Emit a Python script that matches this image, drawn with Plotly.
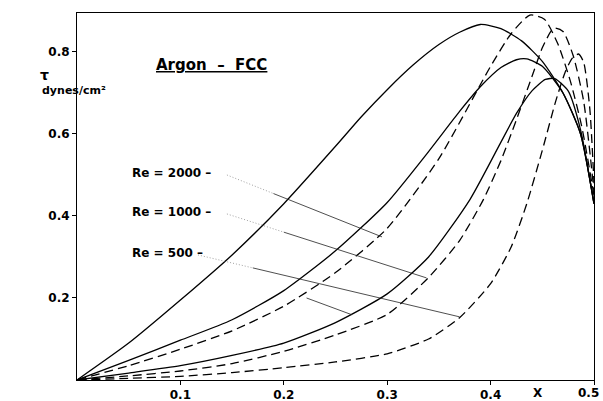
import plotly.graph_objects as go

# ---- data ----
a_x = [0, 0.05, 0.1, 0.15, 0.2, 0.25, 0.275, 0.3, 0.325, 0.35, 0.37, 0.39, 0.41, 0.43, 0.45, 0.47, 0.487, 0.5]
a_y = [0, 0.09, 0.195, 0.305, 0.43, 0.57, 0.642, 0.708, 0.768, 0.818, 0.848, 0.867, 0.857, 0.827, 0.777, 0.7, 0.6, 0.43]

b_x = [0, 0.05, 0.1, 0.15, 0.2, 0.25, 0.3, 0.34, 0.37, 0.39, 0.41, 0.425, 0.435, 0.45, 0.47, 0.487, 0.5]
b_y = [0, 0.048, 0.097, 0.147, 0.218, 0.315, 0.433, 0.557, 0.655, 0.715, 0.762, 0.781, 0.783, 0.765, 0.7, 0.6, 0.43]

c_x = [0, 0.05, 0.1, 0.15, 0.2, 0.25, 0.3, 0.34, 0.38, 0.41, 0.425, 0.44, 0.453, 0.462, 0.475, 0.487, 0.5]
c_y = [0, 0.017, 0.035, 0.06, 0.09, 0.14, 0.21, 0.30, 0.44, 0.58, 0.65, 0.705, 0.733, 0.735, 0.705, 0.61, 0.43]

d1_x = [0, 0.05, 0.1, 0.15, 0.2, 0.25, 0.3, 0.35, 0.4, 0.42, 0.438, 0.452, 0.465, 0.477, 0.488, 0.5]
d1_y = [0, 0.035, 0.075, 0.12, 0.18, 0.262, 0.37, 0.54, 0.765, 0.845, 0.89, 0.88, 0.82, 0.73, 0.62, 0.45]

d2_x = [0, 0.05, 0.1, 0.15, 0.2, 0.25, 0.3, 0.34, 0.37, 0.393, 0.41, 0.425, 0.44, 0.45, 0.461, 0.47, 0.48, 0.49, 0.5]
d2_y = [0, 0.01, 0.022, 0.04, 0.07, 0.11, 0.16, 0.25, 0.34, 0.44, 0.535, 0.635, 0.74, 0.81, 0.858, 0.85, 0.79, 0.68, 0.46]

d3_x = [0, 0.05, 0.1, 0.15, 0.2, 0.25, 0.3, 0.34, 0.37, 0.4, 0.42, 0.435, 0.45, 0.463, 0.472, 0.479, 0.485, 0.49, 0.496, 0.5]
d3_y = [0, 0.004, 0.009, 0.018, 0.03, 0.044, 0.064, 0.1, 0.152, 0.235, 0.325, 0.43, 0.56, 0.68, 0.75, 0.785, 0.795, 0.775, 0.66, 0.48]

re_labels = ["Re = 2000", "Re = 1000", "Re = 500"]
label_x = [0.051, 0.051, 0.051]
label_y = [0.505, 0.41, 0.31]
leader_start_x = [0.145, 0.145, 0.117]
leader_start_y = [0.5, 0.405, 0.305]
leader_mid_x = [0.19, 0.2, 0.17]
leader_end_x = [0.295, 0.338, 0.370]
leader_end_y = [0.349, 0.249, 0.154]

bracket_x = [0.222, 0.266]
bracket_y = [0.20, 0.159]

x_ticks = [0.1, 0.2, 0.3, 0.4, 0.5]
x_ticktext = ["0.1", "0.2", "0.3", "0.4", ""]   # "0.5" drawn as an annotation so it stays inside the page
y_ticks = [0.2, 0.4, 0.6, 0.8]

FONT = "DejaVu Sans, sans-serif"

fig = go.Figure()

solid = dict(color="black", width=1.3, shape="spline", smoothing=0.6)
dashed = dict(color="black", width=1.3, shape="spline", smoothing=0.6, dash="9px,5px")

for xs, ys in [(a_x, a_y), (b_x, b_y), (c_x, c_y)]:
    fig.add_trace(go.Scatter(x=xs, y=ys, mode="lines", line=solid, showlegend=False, hoverinfo="skip"))
for xs, ys in [(d1_x, d1_y), (d2_x, d2_y), (d3_x, d3_y)]:
    fig.add_trace(go.Scatter(x=xs, y=ys, mode="lines", line=dashed, showlegend=False, hoverinfo="skip"))

for i in range(3):
    x0, y0 = leader_start_x[i], leader_start_y[i]
    x1, y1 = leader_end_x[i], leader_end_y[i]
    xm = leader_mid_x[i]
    ym = y0 + (y1 - y0) * (xm - x0) / (x1 - x0)
    # faint dotted part near the label, then a thin solid line
    fig.add_trace(go.Scatter(x=[x0, xm], y=[y0, ym], mode="lines",
                             line=dict(color="#777", width=0.7, dash="1px,2px"),
                             showlegend=False, hoverinfo="skip"))
    fig.add_trace(go.Scatter(x=[xm, x1], y=[ym, y1], mode="lines",
                             line=dict(color="#222", width=0.8),
                             showlegend=False, hoverinfo="skip"))
    fig.add_annotation(x=label_x[i], y=label_y[i], text="<b>" + re_labels[i] + " –</b>",
                       showarrow=False, xanchor="left", yanchor="middle",
                       font=dict(family=FONT, size=12, color="black"))

fig.add_trace(go.Scatter(x=bracket_x, y=bracket_y, mode="lines",
                         line=dict(color="#222", width=0.8), showlegend=False, hoverinfo="skip"))

fig.add_annotation(x=0.13, y=0.768, text="<b>Argon  –  FCC</b>", showarrow=False,
                   xanchor="center", yanchor="middle",
                   font=dict(family=FONT, size=15, color="black", lineposition="under"))

fig.add_annotation(xref="paper", x=-0.075, y=0.745, text="<b>τ</b>", showarrow=False,
                   font=dict(family=FONT, size=14, color="black"))
fig.add_annotation(xref="paper", x=-0.072, y=0.705, text="<b>dynes/cm²</b>", showarrow=False,
                   font=dict(family=FONT, size=11, color="black"))
fig.add_annotation(x=0.446, yref="paper", y=0, yanchor="top", yshift=-4, text="<b>X</b>",
                   showarrow=False, font=dict(family=FONT, size=12, color="black"))
fig.add_annotation(x=x_ticks[-1], yref="paper", y=0, yanchor="top", xanchor="right",
                   xshift=7, yshift=-4, text="<b>%.1f</b>" % x_ticks[-1],
                   showarrow=False, font=dict(family=FONT, size=12, color="black"))

axis_common = dict(showgrid=False, zeroline=False, showline=True, linecolor="black",
                   linewidth=1, mirror=True, ticks="outside", ticklen=4, tickcolor="black",
                   tickfont=dict(family=FONT, size=12, color="black"),
                   automargin=False, ticklabeloverflow="allow")

fig.update_xaxes(range=[0, 0.5], tickvals=x_ticks,
                 ticktext=["<b>%s</b>" % t for t in x_ticktext], **axis_common)
fig.update_yaxes(range=[0, 0.895], tickvals=y_ticks,
                 ticktext=["<b>%.1f</b>" % v for v in y_ticks], **axis_common)

fig.update_layout(width=603, height=401, margin=dict(l=77, r=9, t=13, b=21),
                  paper_bgcolor="white", plot_bgcolor="white")

fig.write_html("out.html")
